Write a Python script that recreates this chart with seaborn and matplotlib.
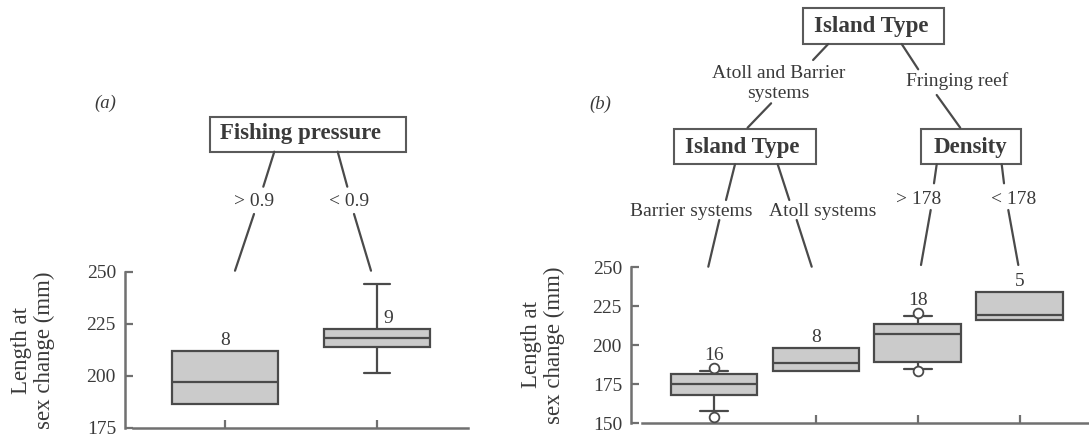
import numpy as np
import pandas as pd
import matplotlib
matplotlib.use("Agg")
import matplotlib.pyplot as plt
import seaborn as sns
from matplotlib.patches import Rectangle
from matplotlib.lines import Line2D

# ---------------- data ----------------
a_groups = ["> 0.9", "< 0.9"]
a_whislo = [186.5, 201.4]
a_q1 = [186.5, 214.0]
a_med = [197.0, 218.3]
a_q3 = [212.0, 222.6]
a_whishi = [212.0, 244.4]
a_fliers = [[], []]
a_n = [8, 9]

b_groups = ["Barrier systems", "Atoll systems", "> 178", "< 178"]
b_whislo = [157.7, 183.3, 184.8, 216.0]
b_q1 = [168.3, 183.3, 189.3, 216.0]
b_med = [175.0, 188.7, 207.0, 219.2]
b_q3 = [181.6, 198.1, 213.7, 234.2]
b_whishi = [183.7, 198.1, 218.6, 234.2]
b_fliers = [[154.2, 185.4], [], [183.3, 220.5], []]
b_n = [16, 8, 18, 5]

a_yticks = [175, 200, 225, 250]
b_yticks = [150, 175, 200, 225, 250]
ylabel = "Length at\nsex change (mm)"

# ---------------- style ----------------
sns.set_style("ticks")
plt.rcParams["font.family"] = ["Liberation Serif", "DejaVu Serif"]
TXT = "#3a3a3a"
EDGE = "#4a4a4a"
SPINE = "#707070"
FILL = "#cbcbcb"

W, H = 1089, 438
fig = plt.figure(figsize=(W / 100, H / 100), dpi=100)


def fx(x):
    return x / W


def fy(y):
    return 1 - y / H


def long_df(groups, lo, q1, med, q3, hi):
    rows = []
    for g, a, b, c, d, e in zip(groups, lo, q1, med, q3, hi):
        for v in (a, b, c, d, e):
            rows.append((g, v))
    return pd.DataFrame(rows, columns=["grp", "val"])


def flier_df(groups, fliers):
    rows = [(g, v) for g, fl in zip(groups, fliers) for v in fl]
    return pd.DataFrame(rows, columns=["grp", "val"])


def panel(rect_px, groups, lo, q1, med, q3, hi, fliers, ns, yticks,
          width, capw, xlim, xstart, label_dx):
    left, top, right, bottom = rect_px
    ax = fig.add_axes([fx(left), fy(bottom), (right - left) / W, (bottom - top) / H])
    df = long_df(groups, lo, q1, med, q3, hi)
    # no cap where the whisker coincides with the box edge
    caps = [capw if (h > t or l < b) else 0.0 for l, b, t, h in zip(lo, q1, q3, hi)]
    sns.boxplot(data=df, x="grp", y="val", order=groups, whis=(0, 100),
                width=width, color=FILL, linecolor=EDGE, linewidth=1.6,
                saturation=1, showfliers=False, capwidths=caps, ax=ax)
    fdf = flier_df(groups, fliers)
    if len(fdf):
        sns.stripplot(data=fdf, x="grp", y="val", order=groups, jitter=False,
                      color="white", edgecolor=EDGE, linewidth=1.3, size=7,
                      ax=ax, zorder=5)
    ax.set_xlim(*xlim)
    ax.set_ylim(yticks[0], yticks[-1])
    ax.set_yticks(yticks)
    ax.set_xticks(range(len(groups)))
    ax.set_xticklabels([])
    ax.set_xlabel("")
    ax.set_ylabel("")
    for s in ("top", "right"):
        ax.spines[s].set_visible(False)
    for s in ("left", "bottom"):
        ax.spines[s].set_color(SPINE)
        ax.spines[s].set_linewidth(1.8)
    ax.spines["bottom"].set_bounds(xstart, xlim[1])
    ax.tick_params(axis="both", direction="in", length=5.5, width=1.6,
                   color=SPINE, labelsize=14, labelcolor=TXT, pad=6.5)
    ax.patch.set_alpha(0)
    for i, n in enumerate(ns):
        anchor = max([q3[i]] + list(fliers[i]))
        dy = 11 if fliers[i] else 9
        ax.annotate(str(n), xy=(i, anchor), xytext=(label_dx[i] * 0.72, dy * 0.72 + 1),
                    textcoords="offset points", ha="center", va="center",
                    fontsize=14, color=TXT)
    return ax


# panel (a)
xa0, xa_step = 225.0, 152.0
panel((125, 272, 468, 428), a_groups, a_whislo, a_q1, a_med, a_q3, a_whishi,
      a_fliers, a_n, a_yticks, 0.70, 0.165,
      ((125 - xa0) / xa_step, (468 - xa0) / xa_step), (133 - xa0) / xa_step, [0, 11])

# panel (b)
xb0, xb_step = 714.0, 101.9
panel((631, 267.3, 1089, 423.3), b_groups, b_whislo, b_q1, b_med, b_q3, b_whishi,
      b_fliers, b_n, b_yticks, 0.85, 0.28,
      ((631 - xb0) / xb_step, (1089 - xb0) / xb_step), (641.5 - xb0) / xb_step,
      [0, 0, 0, 0])

# y labels
fig.text(fx(33), fy(350), ylabel, rotation=90, ha="center", va="center",
         fontsize=16.5, color=TXT, linespacing=1.15, multialignment="center")
fig.text(fx(543), fy(345), ylabel, rotation=90, ha="center", va="center",
         fontsize=16.5, color=TXT, linespacing=1.15, multialignment="center")

# panel letters
fig.text(fx(105.5), fy(103), "(a)", style="italic", ha="center", va="center",
         fontsize=13.5, color=TXT)
fig.text(fx(600), fy(104), "(b)", style="italic", ha="center", va="center",
         fontsize=13.5, color=TXT)


# ---------------- tree ----------------
def node(x0, y0, x1, y1, title, tx, ty):
    fig.add_artist(Rectangle((fx(x0), fy(y1)), (x1 - x0) / W, (y1 - y0) / H,
                             transform=fig.transFigure, facecolor="white",
                             edgecolor="#5a5a5a", linewidth=1.5))
    fig.text(fx(tx), fy(ty), title, ha="center", va="center", fontsize=16.5,
             fontweight="bold", color=TXT)


def edge(x0, y0, x1, y1):
    fig.add_artist(Line2D([fx(x0), fx(x1)], [fy(y0), fy(y1)],
                          transform=fig.transFigure, color=EDGE, linewidth=1.6))


def label(x, y, s):
    fig.text(fx(x), fy(y), s, ha="center", va="center", fontsize=14,
             color=TXT, linespacing=1.2)


# (a) tree
node(210, 116.7, 405.7, 151.7, "Fishing pressure", 301, 134)
edge(274.3, 151.7, 263.3, 186.7)
edge(254, 214, 235, 270.7)
edge(337.7, 151.7, 347.3, 186.7)
edge(354, 214, 371, 270.7)
label(254, 201.7, a_groups[0])
label(349.3, 201.7, a_groups[1])

# (b) tree
node(802.6, 8.3, 944.4, 44, "Island Type", 870.9, 26.7)
edge(828.2, 44, 813.1, 60)
label(778.6, 83.4, "Atoll and Barrier\nsystems")
edge(771.1, 103.3, 747.6, 127.7)
edge(901.7, 44, 918.2, 69.3)
label(956.7, 81, "Fringing reef")
edge(936.7, 95, 960.2, 127.7)

node(674.1, 129, 815.6, 164.3, "Island Type", 742.6, 148)
node(921, 129, 1021.4, 164.3, "Density", 970.4, 148)

edge(735, 164.3, 726, 200)
edge(719.3, 220, 708.3, 266.7)
edge(777.7, 164.3, 789.3, 200)
edge(796.7, 220, 811.7, 266.7)
label(690.8, 211.7, b_groups[0])
label(822.5, 211.7, b_groups[1])

edge(936.7, 164.3, 934, 183.3)
edge(930.7, 210, 921, 265)
edge(1001.7, 164.3, 1004, 183.3)
edge(1008.3, 210, 1018.3, 265)
label(918.3, 200, b_groups[2])
label(1013.3, 200, b_groups[3])

fig.savefig("out.png", dpi=100)
